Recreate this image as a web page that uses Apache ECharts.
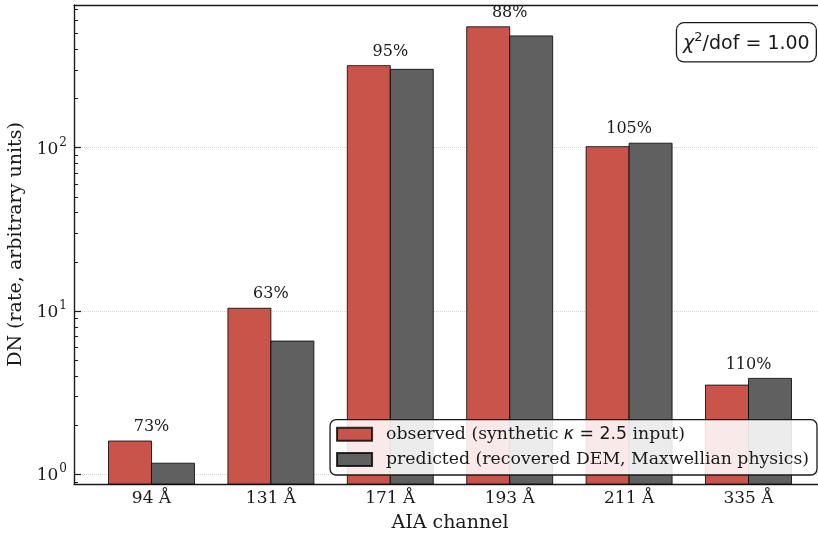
<!DOCTYPE html>
<html>
<head>
<meta charset="utf-8">
<script src="https://cdn.jsdelivr.net/npm/echarts@6/dist/echarts.min.js"></script>
<style>
  html, body { margin: 0; padding: 0; background: #ffffff; }
  #chart { width: 818px; height: 533px; }
</style>
</head>
<body>
<div id="chart"></div>
<script>
// AIA channel count rates: synthetic kappa-distribution input vs. Maxwellian DEM prediction
const channels = ['94 Å', '131 Å', '171 Å', '193 Å', '211 Å', '335 Å'];
const observed = [1.60, 10.4, 318, 550, 101.5, 3.52];
const predicted = [1.17, 6.55, 302, 484, 106.6, 3.87];
const yMajorTicks = [1, 10, 100];
const yMinorTicks = [0.9, 2, 3, 4, 5, 6, 7, 8, 9, 20, 30, 40, 50, 60, 70, 80, 90, 200, 300, 400, 500, 600, 700];
const chiSquareValue = '1.00';

const Y_MIN = 0.873, Y_MAX = 748;
const X_MIN = -0.649, X_MAX = 5.649;
const BAR_W = 0.36;
const RED = '#c9554a', GREY = '#606060', EDGE = 'rgba(0,0,0,0.8)';
const INK = '#1a1a1a';
const SERIF = '"DejaVu Serif", serif';
const SANS = '"DejaVu Sans", sans-serif';

const catIdx = channels.map((_, i) => i);
const obsData = observed.map((v, i) => [i, v]);
const predData = predicted.map((v, i) => [i, v]);
const ratioData = observed.map((v, i) => [i, Math.max(v, predicted[i]), Math.round(predicted[i] / v * 100) + '%']);

function barRenderer(offset, color) {
  return function (params, api) {
    const i = api.value(0), v = api.value(1);
    const p0 = api.coord([i + offset - BAR_W / 2, v]);
    const p1 = api.coord([i + offset + BAR_W / 2, Y_MIN]);
    return {
      type: 'rect',
      shape: { x: p0[0], y: p0[1], width: p1[0] - p0[0], height: p1[1] - p0[1] },
      style: { fill: color, stroke: EDGE, lineWidth: 1 }
    };
  };
}

const supFmt = v => '{b|10}{s|' + Math.round(Math.log10(v)) + '}';

const chart = echarts.init(document.getElementById('chart'), null, { renderer: 'canvas' });
chart.setOption({
  animation: false,
  backgroundColor: '#ffffff',
  grid: { left: 74, right: -8, top: 5, bottom: 49, containLabel: false, outerBoundsMode: 'none' },
  xAxis: [{
    type: 'value', min: X_MIN, max: X_MAX, position: 'bottom',
    axisLine: { show: true, onZero: false, lineStyle: { color: INK, width: 1.4 } },
    axisTick: { show: false },
    splitLine: { show: false },
    axisLabel: {
      customValues: catIdx, formatter: v => channels[Math.round(v)],
      fontFamily: SERIF, fontSize: 17, color: INK, margin: 6
    },
    name: 'AIA channel', nameLocation: 'middle', nameGap: 30,
    nameTextStyle: { fontFamily: SERIF, fontSize: 19, color: INK }
  }, {
    type: 'value', min: X_MIN, max: X_MAX, position: 'top',
    axisLine: { show: true, onZero: false, lineStyle: { color: INK, width: 1.4 } },
    axisTick: { show: false }, axisLabel: { show: false }, splitLine: { show: false }
  }],
  yAxis: [{
    type: 'log', logBase: 10, min: Y_MIN, max: Y_MAX, position: 'left',
    axisLine: { show: true, onZero: false, lineStyle: { color: INK, width: 1.4 } },
    axisTick: { show: true, inside: true, length: 7, customValues: yMajorTicks, lineStyle: { color: INK, width: 1.2 } },
    axisLabel: {
      customValues: yMajorTicks, formatter: supFmt, margin: 7, color: INK,
      rich: {
        b: { fontFamily: SERIF, fontSize: 17, color: INK, verticalAlign: 'bottom', lineHeight: 20 },
        s: { fontFamily: SERIF, fontSize: 12, color: INK, verticalAlign: 'bottom', lineHeight: 20, padding: [0, 0, 9, 1] }
      }
    },
    splitLine: { show: true, lineStyle: { color: '#d6d6d6', width: 1, type: [1, 1] } },
    name: 'DN (rate, arbitrary units)', nameLocation: 'middle', nameGap: 46,
    nameTextStyle: { fontFamily: SERIF, fontSize: 19, color: INK }
  }, {
    type: 'log', logBase: 10, min: Y_MIN, max: Y_MAX, position: 'left',
    axisLine: { show: false, onZero: false },
    axisTick: { show: true, inside: true, length: 4, customValues: yMinorTicks, lineStyle: { color: INK, width: 1 } },
    axisLabel: { show: false }, splitLine: { show: false }
  }],
  legend: {
    data: ['observed', 'predicted'],
    orient: 'vertical', right: 1, bottom: 58,
    itemWidth: 35, itemHeight: 13, itemGap: 5.3,
    icon: 'rect', selectedMode: false,
    padding: [4.5, 8, 5.5, 6],
    backgroundColor: 'rgba(255,255,255,0.88)',
    borderColor: INK, borderWidth: 1.3, borderRadius: 6,
    formatter: name => name === 'observed'
      ? '{t|observed (synthetic }{k|κ}{m| = 2.5}{t| input)}'
      : '{t|predicted (recovered DEM, Maxwellian physics)}',
    textStyle: {
      color: INK, padding: [0, 0, 0, 9], lineHeight: 20,
      rich: {
        t: { fontFamily: SERIF, fontSize: 17.3, color: INK, lineHeight: 20 },
        k: { fontFamily: SANS, fontStyle: 'italic', fontSize: 17.3, color: INK, lineHeight: 20 },
        m: { fontFamily: SANS, fontSize: 17.3, color: INK, lineHeight: 20 }
      }
    }
  },
  graphic: [{
    type: 'text', right: 1, top: 22, z: 100,
    style: {
      text: '{i|χ}{s|2}{n|/dof = ' + chiSquareValue + '}',
      rich: {
        i: { fontFamily: SANS, fontStyle: 'italic', fontSize: 19, fill: INK, verticalAlign: 'bottom', lineHeight: 22 },
        s: { fontFamily: SANS, fontSize: 13, fill: INK, verticalAlign: 'bottom', lineHeight: 22, padding: [0, 0, 9, 0] },
        n: { fontFamily: SANS, fontSize: 19, fill: INK, verticalAlign: 'bottom', lineHeight: 22 }
      },
      backgroundColor: '#ffffff', borderColor: INK, borderWidth: 1.3, borderRadius: 7,
      padding: [8, 6, 8, 6]
    }
  }],
  series: [{
    name: 'observed', type: 'custom', xAxisIndex: 0, yAxisIndex: 0,
    itemStyle: { color: RED, borderColor: EDGE, borderWidth: 1 },
    encode: { x: 0, y: 1 },
    renderItem: barRenderer(-BAR_W / 2, RED),
    data: obsData, z: 2
  }, {
    name: 'predicted', type: 'custom', xAxisIndex: 0, yAxisIndex: 0,
    itemStyle: { color: GREY, borderColor: EDGE, borderWidth: 1 },
    encode: { x: 0, y: 1 },
    renderItem: barRenderer(BAR_W / 2, GREY),
    data: predData, z: 2
  }, {
    name: 'ratio', type: 'custom', xAxisIndex: 0, yAxisIndex: 0,
    encode: { x: 0, y: 1 },
    renderItem: function (params, api) {
      const p = api.coord([api.value(0), api.value(1)]);
      return {
        type: 'text',
        style: {
          x: p[0], y: p[1] - 14, text: ratioData[params.dataIndex][2],
          font: '16px "DejaVu Serif", serif', fill: INK, align: 'center', verticalAlign: 'middle'
        }
      };
    },
    data: ratioData, z: 3
  }]
});
</script>
</body>
</html>
